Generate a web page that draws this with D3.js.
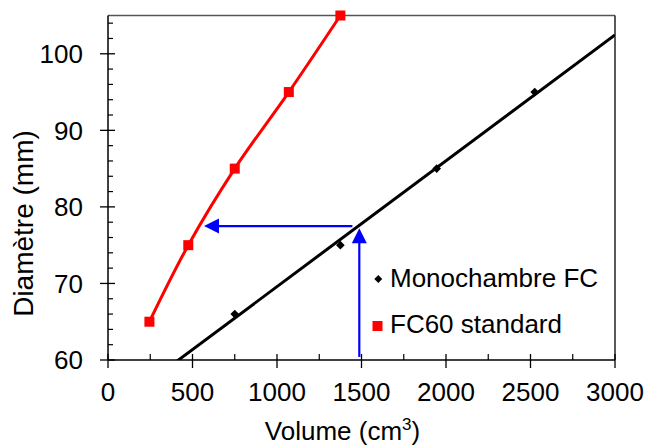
<!DOCTYPE html>
<html>
<head>
<meta charset="utf-8">
<script src="https://cdn.jsdelivr.net/npm/d3@7"></script>
<style>
  html, body { margin: 0; padding: 0; background: #fff; }
  text { font-family: "Liberation Sans", Arial, Helvetica, sans-serif; fill: #000; }
</style>
</head>
<body>
<svg id="chart" width="647" height="447"></svg>
<script>
// ---- Data ----
const fc60Volume = [245, 475, 750, 1070, 1375];
const fc60Diam   = [65, 75, 85, 95, 105];
const monoVolume = [750, 1375, 1945, 2525];
const monoDiam   = [66, 75, 85, 95];
const xTicks = [0, 500, 1000, 1500, 2000, 2500, 3000];
const yTicks = [60, 70, 80, 90, 100];
const seriesNames = ["Monochambre FC", "FC60 standard"];
// annotation arrows (data units): [x1, y1, x2, y2]
const arrowUp   = [1487, 60.4, 1487, 77.2];
const arrowLeft = [1446, 77.5, 568, 77.5];

// ---- Layout ----
const svg = d3.select("#chart");
const pLeft = 108, pRight = 615, pTop = 15.5, pBottom = 360;
const x = d3.scaleLinear().domain([0, 3000]).range([pLeft, pRight]);
const y = d3.scaleLinear().domain([60, 105]).range([pBottom, pTop]);

svg.append("defs").append("clipPath").attr("id", "plotclip")
  .append("rect").attr("x", pLeft).attr("y", pTop).attr("width", pRight - pLeft).attr("height", pBottom - pTop);

// frame
svg.append("line").attr("x1", pLeft).attr("x2", pRight).attr("y1", pTop).attr("y2", pTop)
  .attr("stroke", "#555").attr("stroke-width", 1.5);
svg.append("line").attr("x1", pRight).attr("x2", pRight).attr("y1", pTop).attr("y2", pBottom)
  .attr("stroke", "#000").attr("stroke-width", 1.3);

// X axis
const gx = svg.append("g");
gx.append("line").attr("x1", pLeft).attr("x2", pRight).attr("y1", pBottom).attr("y2", pBottom)
  .attr("stroke", "#000").attr("stroke-width", 1.5);
const xMinor = d3.range(250, 3000, 500);
gx.selectAll(".xmin").data(xMinor).enter().append("line")
  .attr("x1", d => x(d)).attr("x2", d => x(d)).attr("y1", pBottom - 6).attr("y2", pBottom)
  .attr("stroke", "#000").attr("stroke-width", 1.2);
gx.selectAll(".xmaj").data(xTicks).enter().append("line")
  .attr("x1", d => x(d)).attr("x2", d => x(d)).attr("y1", pBottom - 6).attr("y2", pBottom + 8)
  .attr("stroke", "#000").attr("stroke-width", 1.3);
gx.selectAll(".xlab").data(xTicks).enter().append("text")
  .attr("x", d => x(d)).attr("y", 401).attr("text-anchor", "middle")
  .attr("font-size", 26).text(d => d);

// Y axis
const gy = svg.append("g");
gy.append("line").attr("x1", pLeft).attr("x2", pLeft).attr("y1", pTop).attr("y2", pBottom)
  .attr("stroke", "#000").attr("stroke-width", 1.5);
const yMinor = d3.range(62, 105, 2).filter(v => v % 10 !== 0);
gy.selectAll(".ymin").data(yMinor).enter().append("line")
  .attr("x1", pLeft).attr("x2", pLeft + 5).attr("y1", d => y(d)).attr("y2", d => y(d))
  .attr("stroke", "#000").attr("stroke-width", 1.2);
gy.selectAll(".ymaj").data(yTicks).enter().append("line")
  .attr("x1", pLeft - 8).attr("x2", pLeft + 7).attr("y1", d => y(d)).attr("y2", d => y(d))
  .attr("stroke", "#000").attr("stroke-width", 1.3);
gy.selectAll(".ylab").data(yTicks).enter().append("text")
  .attr("x", 83).attr("y", d => y(d)).attr("dy", "0.36em").attr("text-anchor", "end")
  .attr("font-size", 26).text(d => d);

// Axis titles
const xt = svg.append("text").attr("x", 342.5).attr("y", 440).attr("text-anchor", "middle")
  .attr("font-size", 26);
xt.append("tspan").text("Volume (cm");
xt.append("tspan").attr("dy", -10).attr("font-size", 17).text("3");
xt.append("tspan").attr("dy", 10).text(")");

svg.append("text").attr("transform", "translate(33,223.5) rotate(-90)")
  .attr("text-anchor", "middle").attr("font-size", 28).text("Diamètre (mm)");

// ---- Trend line (least squares on Monochambre data) ----
const n = monoVolume.length;
const mx = d3.mean(monoVolume), my = d3.mean(monoDiam);
let sxy = 0, sxx = 0;
for (let i = 0; i < n; i++) { sxy += (monoVolume[i] - mx) * (monoDiam[i] - my); sxx += (monoVolume[i] - mx) ** 2; }
const slope = sxy / sxx, intercept = my - slope * mx;
const xd = x.domain();
svg.append("line")
  .attr("clip-path", "url(#plotclip)")
  .attr("x1", x(xd[0])).attr("y1", y(intercept + slope * xd[0]))
  .attr("x2", x(xd[1])).attr("y2", y(intercept + slope * xd[1]))
  .attr("stroke", "#000").attr("stroke-width", 3);

// Monochambre diamonds
const diamond = d3.symbol().type(d3.symbolDiamond2).size(48);
svg.selectAll(".mono").data(monoVolume.map((v, i) => [v, monoDiam[i]])).enter().append("path")
  .attr("d", diamond).attr("transform", d => `translate(${x(d[0])},${y(d[1])})`)
  .attr("fill", "#000");

// FC60 smooth curve
const fcData = fc60Volume.map((v, i) => [v, fc60Diam[i]]);
svg.append("path").datum(fcData)
  .attr("d", d3.line().x(d => x(d[0])).y(d => y(d[1])).curve(d3.curveCatmullRom.alpha(0.5)))
  .attr("fill", "none").attr("stroke", "#ff0000").attr("stroke-width", 3);
svg.selectAll(".fc").data(fcData).enter().append("rect")
  .attr("x", d => x(d[0]) - 5).attr("y", d => y(d[1]) - 5)
  .attr("width", 10).attr("height", 10).attr("fill", "#ff0000");

// ---- Blue arrows ----
function arrow(a) {
  const x1 = x(a[0]), y1 = y(a[1]), x2 = x(a[2]), y2 = y(a[3]);
  const L = Math.hypot(x2 - x1, y2 - y1), ux = (x2 - x1) / L, uy = (y2 - y1) / L;
  const hl = 15, hw = 7.5;
  const bx = x2 - ux * hl, by = y2 - uy * hl;
  svg.append("line").attr("x1", x1).attr("y1", y1).attr("x2", bx + ux * 2).attr("y2", by + uy * 2)
    .attr("stroke", "#0000ff").attr("stroke-width", 2.2);
  svg.append("path")
    .attr("d", `M${x2},${y2}L${bx - uy * hw},${by + ux * hw}L${bx + uy * hw},${by - ux * hw}Z`)
    .attr("fill", "#0000ff");
}
arrow(arrowUp);
arrow(arrowLeft);

// ---- Legend ----
const lg = svg.append("g");
lg.append("path").attr("d", d3.symbol().type(d3.symbolDiamond2).size(40))
  .attr("transform", "translate(378.3,279)").attr("fill", "#000");
lg.append("text").attr("x", 390).attr("y", 287).attr("font-size", 26).text(seriesNames[0]);
lg.append("rect").attr("x", 372.5).attr("y", 321).attr("width", 10).attr("height", 10).attr("fill", "#ff0000");
lg.append("text").attr("x", 390).attr("y", 333).attr("font-size", 26).text(seriesNames[1]);
</script>
</body>
</html>
